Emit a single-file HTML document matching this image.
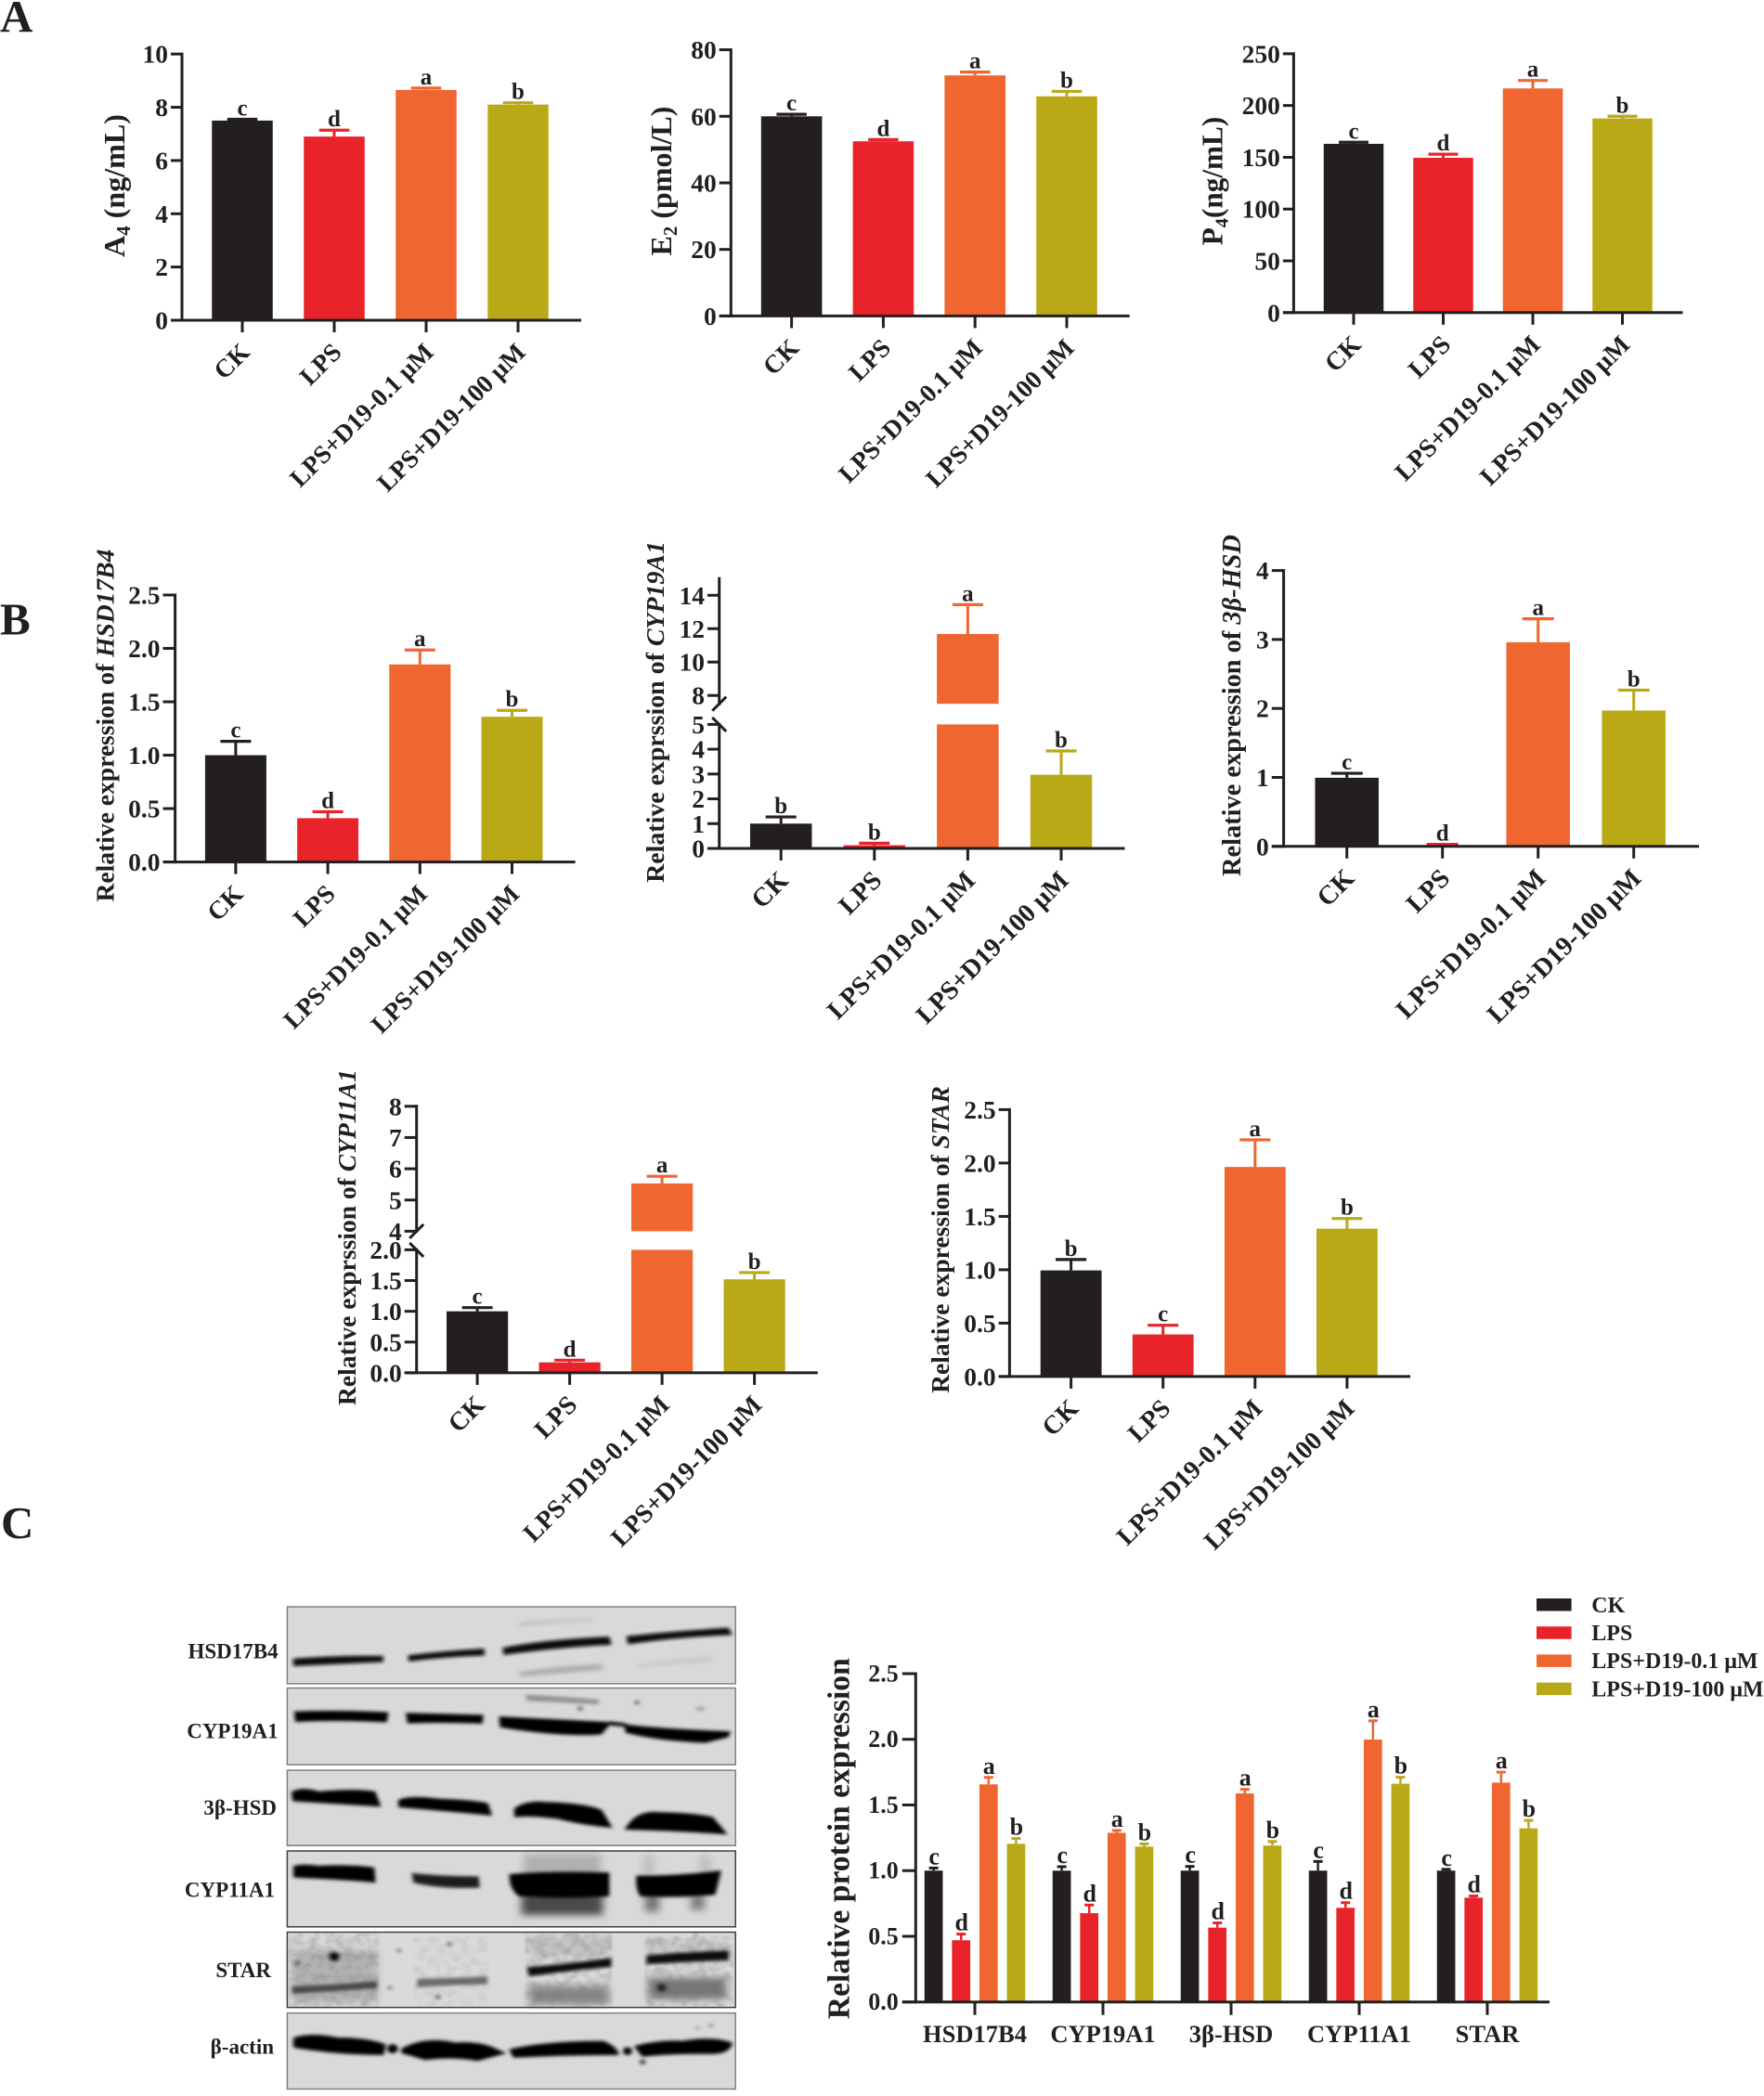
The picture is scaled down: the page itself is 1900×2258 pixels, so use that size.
<!DOCTYPE html>
<html lang="en">
<head>
<meta charset="utf-8">
<title>A4, E2, P4 levels and steroidogenic gene and protein expression</title>
<style>
html,body{margin:0;padding:0;background:#fff;}
svg{display:block;}
text{font-family:"Liberation Serif","Noto Serif CJK SC",serif;font-weight:bold;fill:#231f20;}
</style>
</head>
<body>
<svg id="figure" xmlns="http://www.w3.org/2000/svg" width="1900" height="2258" viewBox="0 0 1900 2258">
<defs>
<filter id="blot-blur" x="-10%" y="-30%" width="120%" height="160%"><feGaussianBlur stdDeviation="5"/></filter>
<filter id="faint-blur" x="-10%" y="-80%" width="120%" height="260%"><feGaussianBlur stdDeviation="7"/></filter>
<filter id="haze-blur" x="-20%" y="-30%" width="140%" height="160%"><feGaussianBlur stdDeviation="11"/></filter>
<filter id="speckle" x="0" y="0" width="100%" height="100%">
<feTurbulence type="fractalNoise" baseFrequency="0.045" numOctaves="3" seed="7" result="n"/>
<feColorMatrix in="n" type="matrix" values="0 0 0 0 0.2  0 0 0 0 0.2  0 0 0 0 0.2  2.6 0 0 0 -0.95" result="d"/>
<feComposite in="d" in2="SourceGraphic" operator="in" result="c"/>
<feGaussianBlur in="c" stdDeviation="2.5"/>
</filter>
</defs>
<rect x="0" y="0" width="1900" height="2258" fill="#ffffff"/>
<text x="0" y="34" font-size="49">A</text>
<text x="0" y="683.6" font-size="49">B</text>
<text x="1" y="1657" font-size="49">C</text>

<g id="western-blot" transform="translate(180,1700) scale(0.40816,0.35587)">
  <g>
    <rect x="317" y="87" width="1183" height="233" fill="#d9d9d9"/>
    <g filter="url(#faint-blur)">
      <path d="M930 135Q1030 125 1125 122V130Q1030 134 930 146Z" fill="#bdbdbd"/>
      <path d="M930 285Q1040 265 1150 262V277Q1040 287 930 298Z" fill="#a8a8a8"/>
      <path d="M1240 262Q1340 245 1440 238V252Q1340 258 1240 270Z" fill="#c4c4c4"/>
    </g>
    <g filter="url(#blot-blur)" fill="#0a0a0a" stroke="#0a0a0a" stroke-width="5">
      <path d="M335 246Q450 236 568 238L568 252Q450 258 335 264Z"/>
      <path d="M638 236Q730 223 835 216L835 232Q730 237 640 250Z"/>
      <path d="M888 213Q1000 188 1165 180L1170 200Q1040 207 890 230Z"/>
      <path d="M1215 178Q1340 163 1480 153L1488 170Q1340 177 1218 198Z"/>
    </g>
    <rect x="317" y="87" width="1183" height="233" fill="none" stroke="#808080" stroke-width="1.5" vector-effect="non-scaling-stroke"/>
  </g>
  <g>
    <rect x="317" y="333" width="1183" height="232" fill="#d9d9d9"/>
    <g filter="url(#blot-blur)" fill="#050505" stroke="#050505" stroke-width="4">
      <path d="M337 406Q450 401 582 408L578 435Q450 427 340 434Z"/>
      <path d="M632 410Q730 413 833 416L830 439Q730 434 636 438Z"/>
      <path d="M878 421Q1000 428 1170 438L1145 472Q1040 480 880 450Z"/>
      <path d="M1170 436L1210 442L1210 448L1170 444Z"/>
      <path d="M1208 445Q1300 458 1485 466L1480 480L1420 497Q1300 492 1212 467Z"/>
    </g>
    <g filter="url(#blot-blur)">
      <path d="M945 353Q1040 358 1140 368V382Q1040 377 950 372Z" fill="#929292"/>
      <circle cx="1240" cy="377" r="7" fill="#707070"/>
      <circle cx="1090" cy="395" r="8" fill="#808080"/>
      <ellipse cx="1407" cy="396" rx="13" ry="7" fill="#a8a8a8"/>
    </g>
    <rect x="317" y="333" width="1183" height="232" fill="none" stroke="#808080" stroke-width="1.5" vector-effect="non-scaling-stroke"/>
  </g>
  <g>
    <rect x="317" y="582" width="1183" height="228" fill="#d9d9d9"/>
    <g filter="url(#blot-blur)" fill="#050505" stroke="#050505" stroke-width="4">
      <path d="M330 648Q360 633 400 648Q500 638 548 648L562 690Q450 682 333 674Z"/>
      <path d="M612 673Q640 658 720 670Q800 673 845 683L855 717Q720 702 612 692Z"/>
      <path d="M918 698Q950 673 1000 680Q1100 683 1145 703L1172 754Q1100 747 1030 727Q960 717 918 722Z"/>
      <path d="M1215 752Q1240 708 1290 710Q1400 713 1440 726L1475 774Q1350 764 1210 760Z"/>
    </g>
    <rect x="317" y="582" width="1183" height="228" fill="none" stroke="#808080" stroke-width="1.5" vector-effect="non-scaling-stroke"/>
  </g>
  <g>
    <rect x="317" y="826" width="1183" height="230" fill="#d9d9d9"/>
    <g filter="url(#haze-blur)">
      <rect x="940" y="835" width="205" height="70" fill="#b0b0b0"/>
      <rect x="935" y="955" width="215" height="65" fill="#4a4a4a"/>
      <rect x="1262" y="955" width="36" height="55" fill="#6e6e6e"/>
      <rect x="1382" y="955" width="36" height="50" fill="#7a7a7a"/>
      <rect x="1255" y="840" width="30" height="60" fill="#bdbdbd"/>
      <rect x="1405" y="840" width="30" height="60" fill="#bdbdbd"/>
    </g>
    <g filter="url(#blot-blur)" fill="#050505" stroke="#050505" stroke-width="4">
      <path d="M335 873Q360 866 400 873Q480 868 545 878L548 920Q480 912 335 905Z"/>
      <path d="M645 893Q720 903 822 903L825 937Q720 942 650 922Z" fill="#1e1e1e" stroke="none"/>
      <path d="M905 898Q1000 888 1165 893L1165 962Q1050 972 930 962Q905 942 905 898Z"/>
      <path d="M1240 903Q1350 903 1460 888L1445 957Q1350 967 1250 962Q1238 942 1240 903Z"/>
    </g>
    <rect x="317" y="826" width="1183" height="230" fill="none" stroke="#404040" stroke-width="1.5" vector-effect="non-scaling-stroke"/>
  </g>
  <g>
    <rect x="317" y="1072" width="1183" height="228" fill="#dadada"/>
    <g filter="url(#haze-blur)">
      <rect x="330" y="1125" width="225" height="160" fill="#b4b4b4"/>
      <rect x="955" y="1235" width="210" height="55" fill="#858585"/>
      <rect x="1270" y="1210" width="205" height="65" fill="#757575"/>
      <rect x="955" y="1085" width="210" height="60" fill="#c2c2c2"/>
      <rect x="1270" y="1095" width="205" height="45" fill="#c6c6c6"/>
    </g>
    <rect x="320" y="1075" width="240" height="222" fill="#000" opacity="0.35" filter="url(#speckle)"/>
    <rect x="945" y="1075" width="230" height="222" fill="#000" opacity="0.35" filter="url(#speckle)"/>
    <rect x="1260" y="1085" width="235" height="212" fill="#000" opacity="0.35" filter="url(#speckle)"/>
    <rect x="650" y="1085" width="200" height="210" fill="#000" opacity="0.15" filter="url(#speckle)"/>
    <g filter="url(#blot-blur)" fill="#111">
      <path d="M330 1236Q450 1231 555 1220V1242Q450 1249 330 1259Z" fill="#4a4a4a"/>
      <path d="M660 1214Q750 1211 845 1206V1230Q750 1232 660 1239Z" fill="#6a6a6a"/>
      <path d="M950 1178Q1060 1168 1172 1150V1177Q1060 1189 955 1206Z"/>
      <path d="M1265 1142Q1370 1132 1482 1127V1157Q1370 1162 1265 1169Z"/>
      <circle cx="441" cy="1146" r="14"/>
      <circle cx="344" cy="1166" r="7" fill="#555"/>
      <circle cx="612" cy="1128" r="5" fill="#555"/>
      <circle cx="745" cy="1108" r="6" fill="#555"/>
      <circle cx="588" cy="1240" r="5" fill="#555"/>
      <circle cx="715" cy="1268" r="7" fill="#666"/>
      <circle cx="1305" cy="1240" r="12" fill="#222"/>
      <circle cx="1395" cy="1080" r="4" fill="#555"/>
    </g>
    <rect x="317" y="1072" width="1183" height="228" fill="none" stroke="#404040" stroke-width="1.5" vector-effect="non-scaling-stroke"/>
  </g>
  <g>
    <rect x="317" y="1317" width="1183" height="230" fill="#d9d9d9"/>
    <g filter="url(#blot-blur)" fill="#050505" stroke="#050505" stroke-width="4">
      <path d="M335 1393Q380 1376 450 1393Q530 1393 575 1413L570 1442Q450 1442 335 1420Z"/>
      <circle cx="595" cy="1425" r="12"/>
      <path d="M620 1426Q680 1388 760 1408Q830 1403 870 1428L890 1438L820 1460Q750 1447 680 1457Q640 1442 620 1437Z"/>
      <path d="M905 1428Q1000 1403 1150 1403Q1185 1418 1190 1442Q1050 1442 915 1450Z"/>
      <circle cx="1215" cy="1432" r="10"/>
      <path d="M1235 1418Q1300 1398 1360 1403Q1440 1388 1490 1408Q1485 1437 1440 1439Q1330 1437 1255 1447Z"/>
      <circle cx="1255" cy="1465" r="8" fill="#444" stroke="none"/>
      <circle cx="1400" cy="1363" r="4" fill="#777" stroke="none"/>
      <circle cx="1435" cy="1355" r="5" fill="#777" stroke="none"/>
    </g>
    <rect x="317" y="1317" width="1183" height="230" fill="none" stroke="#808080" stroke-width="1.5" vector-effect="non-scaling-stroke"/>
  </g>
</g>
<text x="299.6" y="1786.5" text-anchor="end" font-size="23">HSD17B4</text>
<text x="299.6" y="1872.6" text-anchor="end" font-size="23">CYP19A1</text>
<text x="298" y="1955" text-anchor="end" font-size="23">3β-HSD</text>
<text x="296" y="2043.4" text-anchor="end" font-size="23">CYP11A1</text>
<text x="292" y="2130" text-anchor="end" font-size="23">STAR</text>
<text x="295" y="2212.5" text-anchor="end" font-size="23">β-actin</text>
</svg>

<script>
// ---------- shared categories ----------
const categories = ['CK', 'LPS', 'LPS+D19-0.1 μM', 'LPS+D19-100 μM'];
const categorySlugs = ['ck', 'lps', 'lps-d19-0-1', 'lps-d19-100'];

// ---------- A4 ----------
const a4Values = [7.5, 6.9, 8.65, 8.1];
const a4ErrorTops = [7.55, 7.14, 8.72, 8.17];
const a4Letters = ['c', 'd', 'a', 'b'];
const a4Ticks = ['0', '2', '4', '6', '8', '10'];
// ---------- E2 ----------
const e2Values = [60, 52.5, 72.3, 66];
const e2ErrorTops = [60.6, 53, 73.3, 67.5];
const e2Letters = ['c', 'd', 'a', 'b'];
const e2Ticks = ['0', '20', '40', '60', '80'];
// ---------- P4 ----------
const p4Values = [163, 149.5, 216.5, 187.5];
const p4ErrorTops = [164.5, 153, 224.2, 189.6];
const p4Letters = ['c', 'd', 'a', 'b'];
const p4Ticks = ['0', '50', '100', '150', '200', '250'];
// ---------- HSD17B4 ----------
const hsdValues = [1.0, 0.41, 1.85, 1.36];
const hsdErrorTops = [1.13, 0.47, 1.985, 1.42];
const hsdLetters = ['c', 'd', 'a', 'b'];
const hsdTicks = ['0.0', '0.5', '1.0', '1.5', '2.0', '2.5'];
// ---------- CYP19A1 (broken axis) ----------
const cyp19Values = [1.0, 0.13, 11.68, 2.97];
const cyp19ErrorTops = [1.27, 0.21, 13.44, 3.93];
const cyp19Letters = ['b', 'b', 'a', 'b'];
const cyp19LowerTicks = ['0', '1', '2', '3', '4', '5'];
const cyp19UpperTicks = ['8', '10', '12', '14'];
// ---------- 3beta-HSD ----------
const beta3Values = [0.995, 0.015, 2.96, 1.97];
const beta3ErrorTops = [1.06, 0.03, 3.3, 2.265];
const beta3Letters = ['c', 'd', 'a', 'b'];
const beta3Ticks = ['0', '1', '2', '3', '4'];
// ---------- CYP11A1 (broken axis) ----------
const cyp11Values = [1.0, 0.17, 5.53, 1.52];
const cyp11ErrorTops = [1.06, 0.205, 5.76, 1.63];
const cyp11Letters = ['c', 'd', 'a', 'b'];
const cyp11LowerTicks = ['0.0', '0.5', '1.0', '1.5', '2.0'];
const cyp11UpperTicks = ['4', '5', '6', '7', '8'];
// ---------- STAR ----------
const starValues = [0.994, 0.394, 1.963, 1.385];
const starErrorTops = [1.096, 0.48, 2.217, 1.48];
const starLetters = ['b', 'c', 'a', 'b'];
const starTicks = ['0.0', '0.5', '1.0', '1.5', '2.0', '2.5'];
// ---------- Protein grouped chart ----------
const proteinCategories = ['HSD17B4', 'CYP19A1', '3β-HSD', 'CYP11A1', 'STAR'];
const proteinTicks = ['0.0', '0.5', '1.0', '1.5', '2.0', '2.5'];
const seriesNames = ['CK', 'LPS', 'LPS+D19-0.1 μM', 'LPS+D19-100 μM'];
const proteinCkValues = [1.0, 1.0, 1.0, 1.0, 1.0];
const proteinCkErrorTops = [1.02, 1.03, 1.032, 1.07, 1.01];
const proteinCkLetters = ['c', 'c', 'c', 'c', 'c'];
const proteinLpsValues = [0.47, 0.676, 0.566, 0.717, 0.794];
const proteinLpsErrorTops = [0.517, 0.738, 0.602, 0.756, 0.807];
const proteinLpsLetters = ['d', 'd', 'd', 'd', 'd'];
const proteinLowValues = [1.657, 1.288, 1.588, 1.998, 1.67];
const proteinLowErrorTops = [1.71, 1.306, 1.619, 2.141, 1.75];
const proteinLowLetters = ['a', 'a', 'a', 'a', 'a'];
const proteinHighValues = [1.204, 1.183, 1.191, 1.662, 1.322];
const proteinHighErrorTops = [1.245, 1.204, 1.222, 1.711, 1.383];
const proteinHighLetters = ['b', 'b', 'b', 'b', 'b'];

const INK = '#231f20';
const COLORS = ['#231f20', '#e8232a', '#f06630', '#b9a917'];
const root = document.getElementById('figure');

function mk(tag, parent) {
  const e = document.createElementNS('http://www.w3.org/2000/svg', tag);
  parent.appendChild(e);
  return e;
}
function setAll(e, props) {
  for (const k in props) e.setAttribute(k, props[k]);
  return e;
}
function drawLine(parent, x1, y1, x2, y2, color, width, name) {
  const l = setAll(mk('line', parent), {x1: x1, y1: y1, x2: x2, y2: y2, stroke: color, 'stroke-width': width});
  
  
  return l;
}
function drawRect(parent, x, y, w, h, color, name) {
  const r = setAll(mk('rect', parent), {x: x, y: y, width: w, height: Math.max(h, 0), fill: color});
  
  
  return r;
}
function drawText(parent, x, y, str, size, anchor, name) {
  const t = setAll(mk('text', parent), {x: x, y: y, 'font-size': size, 'text-anchor': anchor});
  t.textContent = str;
  
  
  return t;
}
function drawTitle(parent, cfg) {
  const t = setAll(mk('text', parent), {x: cfg.titleX, y: cfg.titleY, 'font-size': 30, 'text-anchor': 'middle',
    transform: 'rotate(-90 ' + cfg.titleX + ' ' + cfg.titleY + ')'});
  
  
  cfg.title.forEach(function (part) {
    const s = mk('tspan', t);
    s.textContent = part.t;
    if (part.italic) s.setAttribute('font-style', 'italic');
    if (part.sub) {
      s.setAttribute('dy', 6);
      s.setAttribute('font-size', '0.65em');
    }
    if (part.afterSub) s.setAttribute('dy', -6);
  });
  const len = t.getComputedTextLength();
  if (len > 0) t.setAttribute('font-size', (30 * cfg.titleLen / len).toFixed(2));
  return t;
}

// y-axis function over one or two continuous segments
function makeYScale(segments) {
  return function (v) {
    let s = segments[0];
    for (let i = 0; i < segments.length; i++) {
      if (v >= segments[i].min) s = segments[i];
    }
    return s.bottom - (v - s.min) / (s.max - s.min) * (s.bottom - s.top);
  };
}

function drawBarChart(cfg) {
  const g = mk('g', root);
  
  
  const y = makeYScale(cfg.segments);
  const x = function (i) { return cfg.first + i * cfg.step; };
  const y0 = cfg.segments[0].bottom;

  cfg.values.forEach(function (v, i) {
    const cx = x(i);
    const errY = y(cfg.errorTops[i]);
    drawLine(g, cx, errY, cx, y(v), COLORS[i], 3, 'error-bar-stem-' + categorySlugs[i]);
    drawLine(g, cx - cfg.cap / 2, errY, cx + cfg.cap / 2, errY, COLORS[i], 3.2, 'error-bar-cap-' + categorySlugs[i]);
    cfg.segments.forEach(function (s) {
      if (v > s.min) {
        const top = y(Math.min(v, s.max));
        const bot = s.bottom;
        drawRect(g, cx - cfg.barW / 2, top, cfg.barW, bot - top, COLORS[i], 'bar-' + categorySlugs[i]);
      }
    });
    drawText(g, cx, errY - 4, cfg.letters[i], 25, 'middle', 'significance-letter-' + categorySlugs[i]);
  });

  // y axis line per segment
  cfg.segments.forEach(function (s) {
    drawLine(g, cfg.axisX, s.bottom + 1.5, cfg.axisX, s.top - 1.5, INK, 3, 'y-axis-line');
    s.ticks.forEach(function (lab) {
      const ty = y(parseFloat(lab));
      drawLine(g, cfg.tickLeft, ty, cfg.axisX, ty, INK, 3, 'y-tick');
      drawText(g, cfg.tickLeft - 3, ty + 9.5, lab, 27.5, 'end', 'y-tick-label');
    });
  });
  // axis-break slashes
  if (cfg.segments.length > 1) {
    const lowerTop = cfg.segments[0].top;
    const upperBottom = cfg.segments[1].bottom;
    drawLine(g, cfg.axisX - 7.5, upperBottom + 7.5, cfg.axisX + 7.5, upperBottom - 7.5, INK, 3, 'axis-break-upper');
    drawLine(g, cfg.axisX - 7.5, lowerTop - 7.5, cfg.axisX + 7.5, lowerTop + 7.5, INK, 3, 'axis-break-lower');
  }
  // x axis
  drawLine(g, cfg.tickLeft, y0, cfg.xEnd, y0, INK, 3, 'x-axis-line');
  categories.forEach(function (c, i) {
    const cx = x(i);
    drawLine(g, cx, y0, cx, y0 + 13, INK, 3, 'x-tick');
    const lx = cx + 9.5, ly = y0 + 36;
    const t = drawText(g, lx, ly, c, cfg.labelSize, 'end', 'x-tick-label-' + categorySlugs[i]);
    t.setAttribute('transform', 'rotate(-45 ' + lx + ' ' + ly + ')');
  });
  drawTitle(g, cfg);
}

drawBarChart({name: 'chart-a4', labelSize: 27.5, first: 261, step: 99, barW: 65.5, cap: 32.5, axisX: 196, tickLeft: 184, xEnd: 626,
  segments: [{min: 0, max: 10, bottom: 345, top: 58.2, ticks: a4Ticks}],
  values: a4Values, errorTops: a4ErrorTops, letters: a4Letters,
  title: [{t: 'A'}, {t: '4', sub: true}, {t: ' (ng/mL)', afterSub: true}], titleX: 134, titleY: 200, titleLen: 154});

drawBarChart({name: 'chart-e2', labelSize: 27.5, first: 852.6, step: 98.8, barW: 65.6, cap: 32.5, axisX: 787.3, tickLeft: 774.7, xEnd: 1216.7,
  segments: [{min: 0, max: 80, bottom: 340.4, top: 53.6, ticks: e2Ticks}],
  values: e2Values, errorTops: e2ErrorTops, letters: e2Letters,
  title: [{t: 'E'}, {t: '2', sub: true}, {t: ' (pmol/L)', afterSub: true}], titleX: 723, titleY: 195, titleLen: 161});

drawBarChart({name: 'chart-p4', labelSize: 27.8, first: 1458, step: 96.5, barW: 64.5, cap: 32, axisX: 1393.4, tickLeft: 1381.9, xEnd: 1812.5,
  segments: [{min: 0, max: 250, bottom: 336.8, top: 57.9, ticks: p4Ticks}],
  values: p4Values, errorTops: p4ErrorTops, letters: p4Letters,
  title: [{t: 'P'}, {t: '4', sub: true}, {t: '(ng/mL)', afterSub: true}], titleX: 1316.6, titleY: 195, titleLen: 138.6});

drawBarChart({name: 'chart-hsd17b4', labelSize: 27.5, first: 253.9, step: 99.2, barW: 66, cap: 33, axisX: 188.6, tickLeft: 175.5, xEnd: 619.6,
  segments: [{min: 0, max: 2.5, bottom: 928.6, top: 641, ticks: hsdTicks}],
  values: hsdValues, errorTops: hsdErrorTops, letters: hsdLetters,
  title: [{t: 'Relative expression of '}, {t: 'HSD17B4', italic: true}], titleX: 122.4, titleY: 781.6, titleLen: 380});

drawBarChart({name: 'chart-cyp19a1', labelSize: 28.3, first: 841.2, step: 100.6, barW: 66.5, cap: 33, axisX: 774.7, tickLeft: 762, xEnd: 1211.5,
  segments: [{min: 0, max: 5, bottom: 914, top: 780.4, ticks: cyp19LowerTicks},
             {min: 7.5, max: 15, bottom: 758.2, top: 623.3, ticks: cyp19UpperTicks}],
  values: cyp19Values, errorTops: cyp19ErrorTops, letters: cyp19Letters,
  title: [{t: 'Relative exprssion of '}, {t: 'CYP19A1', italic: true}], titleX: 715, titleY: 767, titleLen: 368});

drawBarChart({name: 'chart-3beta-hsd', labelSize: 28.6, first: 1450.7, step: 103, barW: 68.5, cap: 34, axisX: 1382.6, tickLeft: 1369.8, xEnd: 1830,
  segments: [{min: 0, max: 4, bottom: 911.8, top: 614.6, ticks: beta3Ticks}],
  values: beta3Values, errorTops: beta3ErrorTops, letters: beta3Letters,
  title: [{t: 'Relative expression of '}, {t: '3β-HSD', italic: true}], titleX: 1336, titleY: 760, titleLen: 368});

drawBarChart({name: 'chart-cyp11a1', labelSize: 28, first: 514.1, step: 99.5, barW: 66.2, cap: 33, axisX: 448.7, tickLeft: 435.7, xEnd: 880.8,
  segments: [{min: 0, max: 2, bottom: 1478.9, top: 1346.4, ticks: cyp11LowerTicks},
             {min: 4, max: 8, bottom: 1326.4, top: 1191.8, ticks: cyp11UpperTicks}],
  values: cyp11Values, errorTops: cyp11ErrorTops, letters: cyp11Letters,
  title: [{t: 'Relative exprssion of '}, {t: 'CYP11A1', italic: true}], titleX: 382.9, titleY: 1333, titleLen: 362});

drawBarChart({name: 'chart-star', labelSize: 27.9, first: 1153.6, step: 99.1, barW: 65.8, cap: 33, axisX: 1087.4, tickLeft: 1075.6, xEnd: 1519,
  segments: [{min: 0, max: 2.5, bottom: 1482.9, top: 1195.4, ticks: starTicks}],
  values: starValues, errorTops: starErrorTops, letters: starLetters,
  title: [{t: 'Relative expression of '}, {t: 'STAR', italic: true}], titleX: 1022, titleY: 1335.5, titleLen: 331});

// ---------- grouped protein chart ----------
(function () {
  const g = mk('g', root);
  
  
  const axisX = 986.3, tickLeft = 971.8, xEnd = 1669, y0 = 2156.7, yTop = 1803, maxV = 2.5;
  const groupFirst = 1050, groupStep = 138, barStep = 29.6, barW = 19.7;
  const y = function (v) { return y0 - v / maxV * (y0 - yTop); };
  const gx = function (i) { return groupFirst + i * groupStep; };
  const seriesValues = [proteinCkValues, proteinLpsValues, proteinLowValues, proteinHighValues];
  const seriesErrors = [proteinCkErrorTops, proteinLpsErrorTops, proteinLowErrorTops, proteinHighErrorTops];
  const seriesLetters = [proteinCkLetters, proteinLpsLetters, proteinLowLetters, proteinHighLetters];

  proteinCategories.forEach(function (cat, i) {
    seriesValues.forEach(function (vals, s) {
      const cx = gx(i) + (s - 1.5) * barStep;
      const errY = y(seriesErrors[s][i]);
      drawLine(g, cx, errY, cx, y(vals[i]), COLORS[s], 2.5, 'error-bar-stem-' + categorySlugs[s]);
      drawLine(g, cx - 5, errY, cx + 5, errY, COLORS[s], 3, 'error-bar-cap-' + categorySlugs[s]);
      drawRect(g, cx - barW / 2, y(vals[i]), barW, y0 - y(vals[i]), COLORS[s], 'bar-' + categorySlugs[s]);
      drawText(g, cx + 0.5, errY - 4, seriesLetters[s][i], 26, 'middle', 'significance-letter-' + categorySlugs[s]);
    });
    drawLine(g, gx(i), y0, gx(i), y0 + 14, INK, 3, 'x-tick');
    drawText(g, gx(i), 2200, cat, 26.5, 'middle', 'x-tick-label');
  });
  drawLine(g, axisX, y0 + 1.5, axisX, yTop - 1.5, INK, 3, 'y-axis-line');
  drawLine(g, tickLeft, y0, xEnd, y0, INK, 3, 'x-axis-line');
  proteinTicks.forEach(function (lab) {
    const ty = y(parseFloat(lab));
    drawLine(g, tickLeft, ty, axisX, ty, INK, 3, 'y-tick');
    drawText(g, tickLeft - 4, ty + 8.5, lab, 26, 'end', 'y-tick-label');
  });
  drawTitle(g, {title: [{t: 'Relative protein expression'}], titleX: 914.7, titleY: 1980.7, titleLen: 389});

  // legend
  const legend = mk('g', g);
  
  
  const legendTop = 1722, legendStep = 30.2;
  seriesNames.forEach(function (nm, s) {
    const ly = legendTop + s * legendStep;
    drawRect(legend, 1655, ly, 37.6, 13.5, COLORS[s], 'legend-swatch-' + categorySlugs[s]);
    drawText(legend, 1714.3, ly + 14.8, nm, 24, 'start', 'legend-entry-' + categorySlugs[s]);
  });
})();
</script>
</body>
</html>
